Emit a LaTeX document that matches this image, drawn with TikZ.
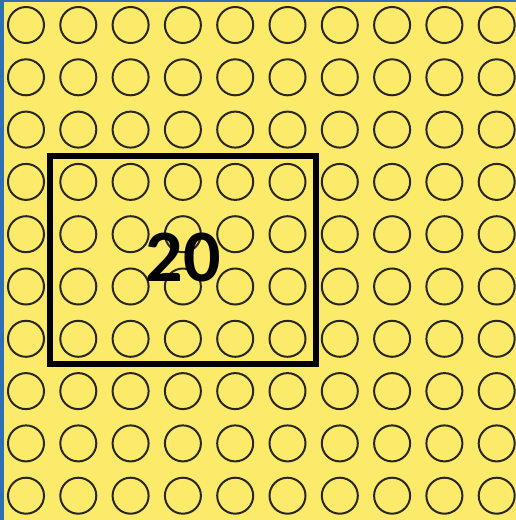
\documentclass[tikz,border=0pt]{standalone}
\usepackage{fontspec}
\setmainfont{Carlito}
\definecolor{feld}{RGB}{252,234,106}
\definecolor{rand}{RGB}{46,110,180}
\definecolor{kreis}{RGB}{40,38,30}

\begin{document}
\begin{tikzpicture}[x=1pt, y=-1pt]
        % Hintergrund
        \useasboundingbox (0,0) rectangle (516,520);
        \fill[rand] (0,0) rectangle (516,520);
        \fill[feld] (4,2) rectangle (516,520);

        % Kreisraster 10x10
        \foreach \i in {0,...,9} {
            \foreach \j in {0,...,9} {
                \draw[kreis, line width=2pt] (26+52.3*\i, 25+52.3*\j) circle (18);
            }
        }

        % Rahmen
        \draw[black, line width=6.5pt] (50,156) rectangle (316,364);

        % Anzahl
        \node[font=\bfseries\fontsize{74}{74}\selectfont] (anzahl) at (183,257) {20};

    \end{tikzpicture}
\end{document}
